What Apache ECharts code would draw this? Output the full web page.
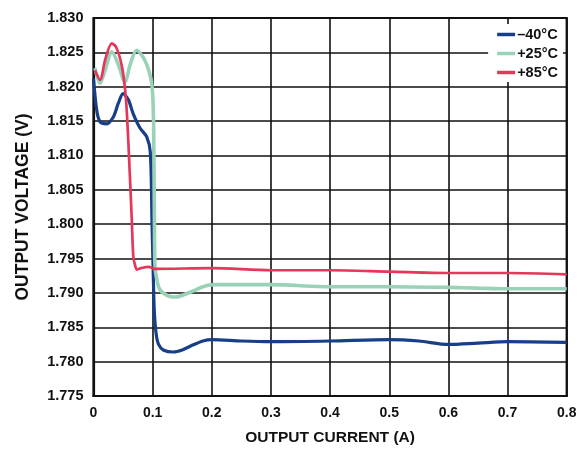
<!DOCTYPE html>
<html>
<head>
<meta charset="utf-8">
<script src="https://cdn.jsdelivr.net/npm/echarts@6/dist/echarts.min.js"></script>
<style>html,body{margin:0;padding:0;background:#fff}#c{width:583px;height:449px}</style>
</head>
<body>
<div id="c"></div>
<script>
var seriesNames = ['\u201340\u00b0C', '+25\u00b0C', '+85\u00b0C'];
var xTickLabels = ['0', '0.1', '0.2', '0.3', '0.4', '0.5', '0.6', '0.7', '0.8'];
var yTickLabels = ['1.775','1.780','1.785','1.790','1.795','1.800','1.805','1.810','1.815','1.820','1.825','1.830'];

var blueX = [0, 0.0054, 0.011, 0.022, 0.0335, 0.042, 0.050, 0.059, 0.067, 0.0786, 0.090, 0.096, 0.099, 0.1015, 0.103, 0.106, 0.110, 0.118, 0.135, 0.150, 0.165, 0.185, 0.200, 0.250, 0.300, 0.400, 0.500, 0.550, 0.600, 0.650, 0.700, 0.800];
var blueY = [1.8212, 1.8166, 1.8149, 1.8146, 1.8156, 1.8176, 1.8190, 1.8181, 1.8161, 1.8140, 1.8127, 1.8105, 1.8000, 1.7910, 1.7870, 1.7840, 1.7825, 1.7817, 1.7814, 1.7817, 1.7823, 1.7830, 1.7832, 1.7830, 1.7829, 1.7830, 1.7832, 1.7830, 1.7825, 1.7827, 1.7829, 1.7828];

var greenX = [0.0025, 0.011, 0.020, 0.031, 0.042, 0.053, 0.063, 0.073, 0.083, 0.090, 0.097, 0.100, 0.1015, 0.102, 0.103, 0.104, 0.107, 0.112, 0.125, 0.138, 0.155, 0.169, 0.185, 0.203, 0.300, 0.400, 0.500, 0.600, 0.650, 0.700, 0.800];
var greenY = [1.8227, 1.8205, 1.8225, 1.8251, 1.8232, 1.8207, 1.8235, 1.8253, 1.8244, 1.8232, 1.8212, 1.8190, 1.8150, 1.8113, 1.8000, 1.7938, 1.7920, 1.7905, 1.7896, 1.7894, 1.7898, 1.7903, 1.7909, 1.7912, 1.7912, 1.7909, 1.7909, 1.7908, 1.7907, 1.7906, 1.7906];

var redX = [0.0025, 0.011, 0.020, 0.031, 0.038, 0.045, 0.050, 0.055, 0.059, 0.0645, 0.0673, 0.070, 0.0735, 0.080, 0.093, 0.100, 0.104, 0.200, 0.300, 0.400, 0.500, 0.600, 0.700, 0.800];
var redY = [1.8224, 1.8210, 1.8240, 1.8263, 1.8258, 1.8241, 1.8220, 1.8181, 1.8118, 1.8011, 1.7953, 1.7941, 1.7934, 1.7936, 1.7938, 1.7936, 1.7935, 1.7936, 1.7933, 1.7933, 1.7931, 1.7929, 1.7929, 1.7927];

function pairs(xs, ys) { return xs.map(function (x, i) { return [x, ys[i]]; }); }

var FONT = 'Arial, "Liberation Sans", sans-serif';
var chart = echarts.init(document.getElementById('c'), null, {renderer: 'canvas'});
var colors = ['#173f88', '#9ad2b7', '#e5375a'];
var widths = [3.2, 3.6, 2.7];
var datas = [pairs(blueX, blueY), pairs(greenX, greenY), pairs(redX, redY)];

chart.setOption({
  animation: false,
  backgroundColor: '#fff',
  grid: {left: 93.5, right: 16.3, top: 18, bottom: 53, containLabel: false, outerBoundsMode: 'none',
    show: true, borderColor: '#111', borderWidth: 2.2, backgroundColor: 'transparent'},
  legend: {
    data: seriesNames,
    orient: 'vertical', right: 20, top: 24,
    backgroundColor: '#fff',
    padding: [1, 5, 0, 9],
    icon: 'rect',
    itemGap: 0, itemWidth: 18, itemHeight: 3.5,
    textStyle: {fontFamily: FONT, fontWeight: 'bold', fontSize: 14.5, lineHeight: 19, color: '#111', padding: [0, 0, 0, -3]}
  },
  xAxis: {
    type: 'value', min: 0, max: 0.8, interval: 0.1,
    name: 'OUTPUT CURRENT (A)', nameLocation: 'middle', nameGap: 34,
    nameTextStyle: {fontFamily: FONT, fontWeight: 'bold', fontSize: 15.5, color: '#111'},
    axisLine: {show: true, lineStyle: {color: '#111', width: 2.2}},
    axisTick: {show: false},
    splitLine: {show: true, lineStyle: {color: '#111', width: 1.6}},
    axisLabel: {margin: 10, fontFamily: FONT, fontWeight: 'bold', fontSize: 14, color: '#111',
      formatter: function (v) { return xTickLabels[Math.round(v * 10)]; }}
  },
  yAxis: {
    type: 'value', min: 1.775, max: 1.830, interval: 0.005,
    name: 'OUTPUT VOLTAGE (V)', nameLocation: 'middle', nameGap: 61, nameRotate: 90,
    nameTextStyle: {fontFamily: FONT, fontWeight: 'bold', fontSize: 17.5, color: '#111'},
    axisLine: {show: true, lineStyle: {color: '#111', width: 2.2}},
    axisTick: {show: false},
    splitLine: {show: true, lineStyle: {color: '#111', width: 1.6}},
    axisLabel: {margin: 10, fontFamily: FONT, fontWeight: 'bold', fontSize: 14.5, color: '#111',
      formatter: function (v) { return yTickLabels[Math.round((v - 1.775) / 0.005)]; }}
  },
  series: seriesNames.map(function (n, i) {
    return {
      name: n, type: 'line', data: datas[i], symbol: 'none', smooth: 0.3,
      color: colors[i], lineStyle: {color: colors[i], width: widths[i]}, z: 2 + i
    };
  })
});
</script>
</body>
</html>
